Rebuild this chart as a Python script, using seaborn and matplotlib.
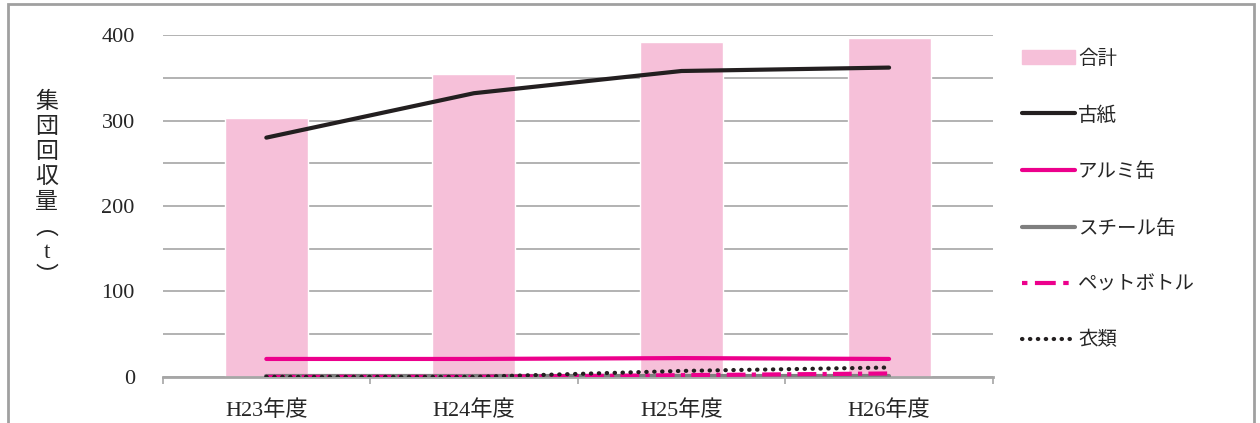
import numpy as np
import matplotlib.pyplot as plt
import matplotlib.patches as mpatches
from matplotlib.lines import Line2D
import seaborn as sns
import pandas as pd

years = ["H23年度", "H24年度", "H25年度", "H26年度"]
total = [303, 355, 392, 397]
kosi = [280, 332, 358, 362]
alumi = [21, 21, 22, 21]
steel = [1, 1, 1, 1]
pet = [0, 0, 2, 4]
irui = [0, 0, 7, 11]

sns.set_style("white")
plt.rcParams['font.family'] = ['Liberation Serif', 'Noto Sans CJK JP']

pink = "#F6C0D9"
magenta = "#EC008C"

fig = plt.figure(figsize=(12.6, 4.23), dpi=100)
ax = fig.add_axes([0.129, 0.109, 0.659, 0.808])

df = pd.DataFrame({"year": years, "total": total, "kosi": kosi, "alumi": alumi,
                   "steel": steel, "pet": pet, "irui": irui})

sns.barplot(data=df, x="year", y="total", color=pink, width=0.4, saturation=1, ax=ax, zorder=2)
sns.lineplot(data=df, x="year", y="kosi", color="#231F20", lw=3, sort=False, ax=ax, zorder=3)
sns.lineplot(data=df, x="year", y="alumi", color=magenta, lw=3, sort=False, ax=ax, zorder=3)
sns.lineplot(data=df, x="year", y="steel", color="#7F7F7F", lw=3, sort=False, ax=ax, zorder=3)
sns.lineplot(data=df, x="year", y="pet", color=magenta, lw=3, sort=False, ax=ax, zorder=4)
ax.lines[-1].set_dashes((4.5, 1.5, 1, 1.5))
sns.lineplot(data=df, x="year", y="irui", color="#231F20", lw=3, sort=False, ax=ax, zorder=5)
ax.lines[-1].set_linestyle((0, (0.1, 1.8)))
ax.lines[-1].set_dash_capstyle("round")
for ln in ax.lines[:3]:
    ln.set_solid_capstyle("round")

ax.set_xlim(-0.5, 3.5)
ax.set_ylim(0, 400)
ax.set_yticks(np.arange(0, 401, 100))
ax.set_yticks(np.arange(0, 401, 50), minor=True)
ax.yaxis.grid(True, which="both", color="#A6A6A6", lw=1.2)
ax.set_axisbelow(True)
ax.tick_params(axis="y", which="both", length=0, labelsize=16, pad=20)
ax.set_xticks([-0.5, 0.5, 1.5, 2.5, 3.5], minor=True)
ax.tick_params(axis="x", which="major", length=0, labelsize=16, pad=17)
ax.tick_params(axis="x", which="minor", length=5, color="#A6A6A6", width=1.2, bottom=True)
ax.set_xlabel("")
ax.set_ylabel("")
for s in ["top", "right", "left"]:
    ax.spines[s].set_visible(False)
ax.spines["bottom"].set_color("#A6A6A6")
ax.spines["bottom"].set_linewidth(2)

fig.text(0.037, 0.55, "\n".join("集団回収量︵t︶"), ha="center", va="center",
         fontsize=16.5, linespacing=1.25)

handles = [
    mpatches.Patch(color=pink),
    Line2D([], [], color="#231F20", lw=3, solid_capstyle="round"),
    Line2D([], [], color=magenta, lw=3, solid_capstyle="round"),
    Line2D([], [], color="#7F7F7F", lw=3, solid_capstyle="round"),
    Line2D([], [], color=magenta, lw=3, linestyle=(0, (1.3, 1.8, 5, 1.8))),
    Line2D([], [], color="#231F20", lw=3, linestyle=(0, (0.1, 1.8)), dash_capstyle="round"),
]
labels = ["合計", "古紙", "アルミ缶", "スチール缶", "ペットボトル", "衣類"]
fig.legend(handles, labels, loc="upper left", bbox_to_anchor=(0.797, 0.925),
           frameon=False, fontsize=14, handlelength=2.75, handletextpad=0.15,
           labelspacing=1.96)

fig.add_artist(mpatches.Rectangle((0.0065, -0.05), 0.989, 1.04, transform=fig.transFigure,
                                  fill=False, edgecolor="#A0A0A0", lw=2))

fig.savefig("out.png", dpi=100)
